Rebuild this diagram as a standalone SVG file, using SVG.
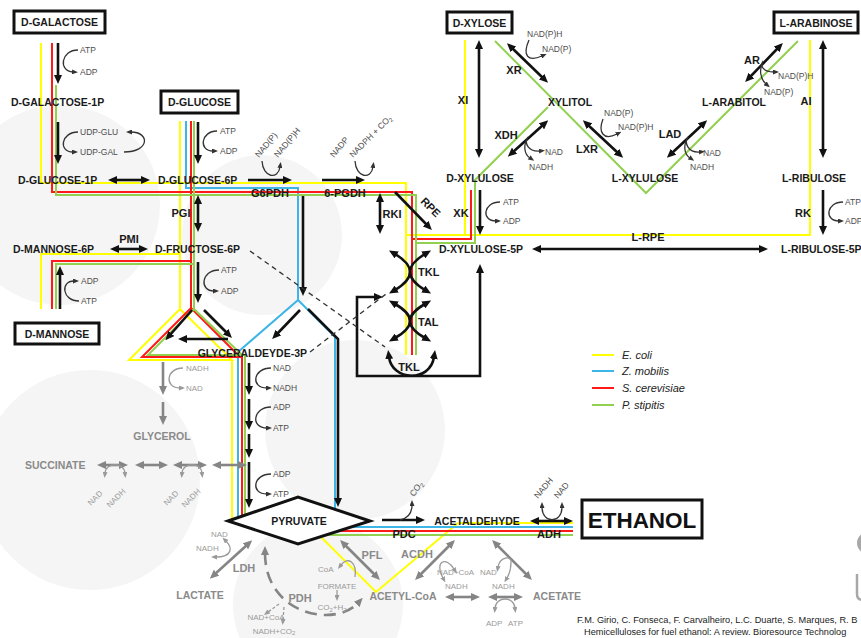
<svg xmlns="http://www.w3.org/2000/svg" width="861" height="638" viewBox="0 0 861 638">
<style>
text{font-family:"Liberation Sans",Arial,Helvetica,sans-serif}
.n{font-size:10.5px;font-weight:bold;fill:#1a1a1a}
.e{font-size:11px;font-weight:bold;fill:#1a1a1a}
.gt{font-size:10.5px;font-weight:bold;fill:#8a8a8a}
.ge{font-size:11px;font-weight:bold;fill:#8a8a8a}
.c{font-size:8.5px;fill:#4d4d4d}
.cg{font-size:8px;fill:#9a9a9a}
.m{text-anchor:middle}
.box{fill:#fff;stroke:#111;stroke-width:3}
.a{fill:none;stroke:#111;stroke-width:2.6;marker-end:url(#m)}
.a2{fill:none;stroke:#111;stroke-width:2.6;marker-start:url(#m);marker-end:url(#m)}
.g1{fill:none;stroke:#858585;stroke-width:2.6;marker-end:url(#mg)}
.g2{fill:none;stroke:#858585;stroke-width:2.6;marker-start:url(#mg);marker-end:url(#mg)}
.s1{fill:none;stroke:#333;stroke-width:1.3;marker-end:url(#s)}
.s2{fill:none;stroke:#333;stroke-width:1.3;marker-start:url(#s);marker-end:url(#s)}
.t1{fill:none;stroke:#9a9a9a;stroke-width:1.3;marker-end:url(#sg)}
.t2{fill:none;stroke:#9a9a9a;stroke-width:1.3;marker-start:url(#sg);marker-end:url(#sg)}
.ye{fill:none;stroke:#ffff00;stroke-width:2}
.bl{fill:none;stroke:#3db5e6;stroke-width:2}
.re{fill:none;stroke:#ff1a1a;stroke-width:2}
.gn{fill:none;stroke:#92d050;stroke-width:2}
.bg{fill:#f5f5f5}
.dash{fill:none;stroke:#333;stroke-width:1.3;stroke-dasharray:5 4}
.leg{font-size:11px;font-style:italic;fill:#222}
.cit{font-size:9.2px;fill:#222}
</style>
<defs>
<marker id="m" viewBox="0 0 9 8" markerWidth="9" markerHeight="8" refX="2" refY="4" orient="auto-start-reverse" markerUnits="userSpaceOnUse"><path d="M0,0 L9,4 L0,8 z" fill="#111"/></marker>
<marker id="mg" viewBox="0 0 9 8" markerWidth="9" markerHeight="8" refX="2" refY="4" orient="auto-start-reverse" markerUnits="userSpaceOnUse"><path d="M0,0 L9,4 L0,8 z" fill="#858585"/></marker>
<marker id="s" viewBox="0 0 6 5" markerWidth="6" markerHeight="5" refX="1" refY="2.5" orient="auto-start-reverse" markerUnits="userSpaceOnUse"><path d="M0,0 L6,2.5 L0,5 z" fill="#333"/></marker>
<marker id="sg" viewBox="0 0 6 5" markerWidth="6" markerHeight="5" refX="1" refY="2.5" orient="auto-start-reverse" markerUnits="userSpaceOnUse"><path d="M0,0 L6,2.5 L0,5 z" fill="#9a9a9a"/></marker>
</defs>
<rect width="861" height="638" fill="#fff"/>
<g id="background">
<circle class="bg" cx="60" cy="205" r="100"/>
<circle class="bg" cx="262" cy="235" r="80"/>
<circle class="bg" cx="355" cy="430" r="90"/>
<circle class="bg" cx="90" cy="480" r="110"/>
<circle class="bg" cx="318" cy="605" r="85"/>
<circle cx="868" cy="543" r="11" fill="#a8a8a8"/>
<path d="M857,574 V594 Q857,600 863,600" fill="none" stroke="#a8a8a8" stroke-width="2.5"/>
</g>
<g id="pathways">
<path class="ye" d="M41,43 V183 H406 V355"/>
<path class="ye" d="M180,121 V309 L129,360 H232 L180,309 M232,360 V520"/>
<path class="ye" d="M41,309 V254 H180"/>
<path class="ye" d="M305,521 L376,592 L458,523 H573"/>
<path class="ye" d="M465,40 V235 M406,235 H810 V40"/>
<path class="bl" d="M186,121 V188 H298 V300 L238,352 V520"/>
<path class="bl" d="M298,300 L335,337 V527 H573"/>
<path class="re" d="M52,43 V192 H412 V355"/>
<path class="re" d="M191,121 V308 L142,357 H242 V520 M191,308 L240,357"/>
<path class="re" d="M52,309 V261 H191"/>
<path class="re" d="M300,531 H573"/>
<path class="re" d="M471,190 V239 H412"/>
<path class="gn" d="M56,85 V195 H416 V355"/>
<path class="gn" d="M194,121 V309 L148,355 H245 V520 M194,309 L242,355"/>
<path class="gn" d="M56,309 V264 H194"/>
<path class="gn" d="M300,535 H573"/>
<path class="gn" d="M495,41 L646,193 L798,41"/>
<path class="gn" d="M548,107 L475,180 V243 H416"/>
</g>
<g id="connectors">
<path class="a" d="M58,43 V77"/>
<path class="a" d="M58,122 V157"/>
<path class="a2" d="M115,180 H143"/>
<path class="a" d="M198,122 V157"/>
<path class="a" d="M248,180 H285"/>
<path class="a" d="M322,180 H358"/>
<path class="a2" d="M198,202 V225"/>
<path class="a2" d="M117,249 H141"/>
<path class="a" d="M60,309 V273"/>
<path class="a" d="M198,262 V296"/>
<path class="a" d="M192,310 L170,335"/>
<path class="a" d="M204,310 L227,333"/>
<path class="a" d="M228,339 H185"/>
<path class="a" d="M303,196 V289"/>
<path class="a" d="M300,310 L277,334"/>
<path class="a" d="M308,309 L338,339 V500"/>
<path class="a" d="M249,363 V388"/>
<path class="a" d="M249,399 V423"/>
<path class="a" d="M249,434 V451"/>
<path class="a" d="M249,462 V501"/>
<path class="a" d="M382,520 H418"/>
<path class="a2" d="M537,521 H566"/>
<path class="a2" d="M380,200 V227"/>
<path class="a" d="M395,192 L427,225"/>
<path class="a2" d="M479,47 V151"/>
<path class="a2" d="M512,48 L543,78"/>
<path class="a2" d="M513,152 L543,125"/>
<path class="a2" d="M588,125 L618,153"/>
<path class="a2" d="M672,153 L702,125"/>
<path class="a2" d="M750,77 L778,48"/>
<path class="a2" d="M823,47 V151"/>
<path class="a" d="M480,190 V228"/>
<path class="a" d="M823,190 V228"/>
<path class="a2" d="M539,249 H761"/>
<path class="a2" d="M376,297 H357 V376 H480 V271"/>
<path class="a2" d="M395,254 Q425,272 395,290"/>
<path class="a2" d="M425,254 Q395,272 425,290"/>
<path class="a2" d="M395,304 Q425,321 395,338"/>
<path class="a2" d="M425,304 Q395,321 425,338"/>
<path class="a2" d="M389,357 C392,381 430,383 434,357"/>
<path class="dash" d="M250,251 L385,347"/>
<path class="dash" d="M310,352 L386,294"/>
<path class="s1" d="M78,50 C61,50 58,71 73,72"/>
<path class="s1" d="M78,132 C61,132 58,152 73,152"/>
<path class="s1" d="M124,152 C150,152 150,132 131,132"/>
<path class="s1" d="M217,131 C201,131 198,151 213,151"/>
<path class="s1" d="M219,270 C201,270 199,291 214,291"/>
<path class="s1" d="M79,301 C62,301 60,281 74,281"/>
<path class="s1" d="M271,368 C253,368 250,388 267,388"/>
<path class="s1" d="M271,407 C253,407 250,428 267,428"/>
<path class="s1" d="M271,474 C253,474 250,494 267,494"/>
<path class="s1" d="M500,202 C483,202 481,221 496,221"/>
<path class="s1" d="M843,202 C826,202 824,221 839,221"/>
<path class="s1" d="M262,161 C263,178 278,180 280,167"/>
<path class="s1" d="M355,161 C356,178 371,180 373,167"/>
<path class="s1" d="M400,520 C409,518 412,512 412,505"/>
<path class="s2" d="M542,507 C542,524 562,524 562,507"/>
<path class="s1" d="M529,40 C522,56 528,62 542,56"/>
<path class="s2" d="M540,151 C528,152 524,143 528,137 C523,145 524,154 530,158"/>
<path class="s1" d="M603,119 C598,132 603,141 617,134"/>
<path class="s2" d="M700,152 C688,153 684,143 688,137 C683,145 684,154 690,158"/>
<path class="s2" d="M774,72 C763,72 760,66 763,61 C759,69 760,79 766,84"/>
<path class="g1" d="M163,362 V388"/>
<path class="g1" d="M163,402 V418"/>
<path class="t1" d="M183,368 C166,368 164,388 180,388"/>
<path class="g2" d="M104,465 H121"/>
<path class="g2" d="M142,465 H161"/>
<path class="g2" d="M180,465 H200"/>
<path class="g2" d="M219,465 H240"/>
<path class="t2" d="M105,473 C106,462 124,462 125,473"/>
<path class="t2" d="M182,473 C183,462 201,462 202,473"/>
<path class="g2" d="M247,545 L215,574"/>
<path class="t2" d="M226,541 C233,548 232,557 216,557"/>
<path class="g2" d="M345,545 L375,575"/>
<path class="t1" d="M355,577 C357,562 348,556 341,565"/>
<path class="t1" d="M337,590 V596"/>
<path class="g2" d="M450,545 L420,575"/>
<path class="t2" d="M454,569 C446,556 434,561 443,578"/>
<path class="g2" d="M497,545 L527,575"/>
<path class="t2" d="M498,567 C500,556 512,556 511,562 C511,570 510,573 507,578"/>
<path class="g2" d="M452,597 H473"/>
<path class="g2" d="M495,597 H516"/>
<path class="t2" d="M495,608 C496,596 514,596 515,608"/>
<path class="g2" d="M265,553 C265,615 335,628 358,603" stroke-dasharray="12 7"/>
<path class="t1" d="M279,604 L268,612" stroke-dasharray="3 2"/>
<path class="t1" d="M284,607 L283,620" stroke-dasharray="3 2"/>
</g>
<g id="n-pyruvate">
<polygon points="228,521 298,497 370,521 298,544" fill="#fff" stroke="#111" stroke-width="3"/>
<text class="n m" x="299" y="525">PYRUVATE</text>
</g>
<g id="n-galactose"><rect class="box" x="14" y="11" width="91" height="22"/><text class="n m" x="59.5" y="26">D-GALACTOSE</text></g>
<g id="n-gal1p"><text class="n" x="11" y="106">D-GALACTOSE-1P</text></g>
<g id="n-glc1p"><text class="n" x="18" y="184">D-GLUCOSE-1P</text></g>
<g id="n-glucose"><rect class="box" x="161" y="91" width="77" height="22"/><text class="n m" x="199.5" y="106">D-GLUCOSE</text></g>
<g id="n-g6p"><text class="n" x="158" y="184">D-GLUCOSE-6P</text></g>
<g id="n-m6p"><text class="n" x="13" y="253">D-MANNOSE-6P</text></g>
<g id="n-f6p"><text class="n" x="155" y="253">D-FRUCTOSE-6P</text></g>
<g id="n-mannose"><rect class="box" x="15" y="323" width="84" height="21"/><text class="n m" x="57" y="337.5">D-MANNOSE</text></g>
<g id="n-gap"><text class="n" x="307" y="357" text-anchor="end">GLYCERALDEYDE-3P</text></g>
<g id="n-glycerol"><text class="gt m" x="162" y="440">GLYCEROL</text></g>
<g id="n-succinate"><text class="gt" x="25" y="469">SUCCINATE</text></g>
<g id="n-acetaldehyde"><text class="n m" x="477" y="525">ACETALDEHYDE</text></g>
<g id="n-ethanol"><rect class="box" x="582" y="500" width="120" height="38"/><text x="642" y="527.5" text-anchor="middle" font-size="22.5" font-weight="bold" fill="#111">ETHANOL</text></g>
<g id="n-lactate"><text class="gt m" x="200" y="599">LACTATE</text></g>
<g id="n-acetylcoa"><text class="gt m" x="403" y="600">ACETYL-CoA</text></g>
<g id="n-acetate"><text class="gt m" x="557" y="600">ACETATE</text></g>
<g id="n-xylose"><rect class="box" x="447" y="12" width="65" height="21"/><text class="n m" x="479.5" y="26.5">D-XYLOSE</text></g>
<g id="n-arabinose"><rect class="box" x="774" y="12" width="84" height="21"/><text class="n m" x="816" y="26.5">L-ARABINOSE</text></g>
<g id="n-xylitol"><text class="n m" x="570" y="106">XYLITOL</text></g>
<g id="n-arabitol"><text class="n m" x="734" y="106">L-ARABITOL</text></g>
<g id="n-dxylulose"><text class="n m" x="480" y="182">D-XYLULOSE</text></g>
<g id="n-lxylulose"><text class="n m" x="645" y="182">L-XYLULOSE</text></g>
<g id="n-lribulose"><text class="n m" x="814" y="182">L-RIBULOSE</text></g>
<g id="n-xu5p"><text class="n" x="439" y="253">D-XYLULOSE-5P</text></g>
<g id="n-ru5p"><text class="n" x="781" y="253">L-RIBULOSE-5P</text></g>
<g id="enzymes">
<text class="e m" x="181" y="217">PGI</text>
<text class="e m" x="129" y="243">PMI</text>
<text class="e m" x="270" y="197">G6PDH</text>
<text class="e m" x="345" y="197">6-PGDH</text>
<text class="e m" x="392" y="218">RKI</text>
<text class="e m" transform="translate(428,210) rotate(45)">RPE</text>
<text class="e m" x="461" y="217">XK</text>
<text class="e m" x="803" y="217">RK</text>
<text class="e m" x="463" y="104">XI</text>
<text class="e m" x="806" y="105">AI</text>
<text class="e m" x="514" y="74">XR</text>
<text class="e m" x="506" y="139">XDH</text>
<text class="e m" x="587" y="153">LXR</text>
<text class="e m" x="670" y="138">LAD</text>
<text class="e m" x="752" y="64">AR</text>
<text class="e m" x="648" y="241">L-RPE</text>
<text class="e m" x="404" y="538">PDC</text>
<text class="e m" x="549" y="538">ADH</text>
<text class="e" x="418" y="276">TKL</text>
<text class="e" x="418" y="326">TAL</text>
<text class="e m" x="409" y="371">TKL</text>
<text class="ge m" x="244" y="572">LDH</text>
<text class="ge m" x="372" y="559">PFL</text>
<text class="ge m" x="417" y="558">ACDH</text>
<text class="ge m" x="300" y="602">PDH</text>
</g>
<g id="cofactors">
<text class="c" x="80" y="53">ATP</text><text class="c" x="80" y="75">ADP</text>
<text class="c" x="80" y="135">UDP-GLU</text><text class="c" x="80" y="155">UDP-GAL</text>
<text class="c" x="220" y="134">ATP</text><text class="c" x="220" y="154">ADP</text>
<text class="c" x="221" y="273">ATP</text><text class="c" x="221" y="294">ADP</text>
<text class="c" x="81" y="284">ADP</text><text class="c" x="81" y="304">ATP</text>
<text class="c" x="273" y="371">NAD</text><text class="c" x="273" y="391">NADH</text>
<text class="c" x="273" y="410">ADP</text><text class="c" x="273" y="431">ATP</text>
<text class="c" x="273" y="477">ADP</text><text class="c" x="273" y="497">ATP</text>
<text class="c" x="503" y="205">ATP</text><text class="c" x="503" y="224">ADP</text>
<text class="c" x="845" y="205">ATP</text><text class="c" x="845" y="224">ADP</text>
<text class="c" transform="translate(259,158) rotate(-50)">NAD(P)</text>
<text class="c" transform="translate(278,158) rotate(-50)">NAD(P)H</text>
<text class="c" transform="translate(334,158) rotate(-50)">NADP</text>
<text class="c" transform="translate(353,158) rotate(-45)">NADPH + CO<tspan font-size="6" dy="2">2</tspan></text>
<text class="c" x="527" y="37">NAD(P)H</text><text class="c" x="542" y="52">NAD(P)</text>
<text class="c" x="545" y="155">NAD</text><text class="c" x="529" y="170">NADH</text>
<text class="c" x="604" y="116">NAD(P)</text><text class="c" x="618" y="130">NAD(P)H</text>
<text class="c" x="703" y="156">NAD</text><text class="c" x="690" y="170">NADH</text>
<text class="c" x="778" y="79">NAD(P)H</text><text class="c" x="764" y="95">NAD(P)</text>
<text class="c" transform="translate(538,499) rotate(-50)">NADH</text>
<text class="c" transform="translate(558,499) rotate(-50)">NAD</text>
<text class="c" transform="translate(414,497) rotate(-55)">CO<tspan font-size="6" dy="2">2</tspan></text>
<text class="cg" x="186" y="371">NADH</text><text class="cg" x="186" y="391">NAD</text>
<text class="cg m" transform="translate(97,500) rotate(-45)">NAD</text>
<text class="cg m" transform="translate(118,500) rotate(-45)">NADH</text>
<text class="cg m" transform="translate(173,500) rotate(-45)">NAD</text>
<text class="cg m" transform="translate(193,500) rotate(-45)">NADH</text>
<text class="cg" x="211" y="537">NAD</text><text class="cg" x="196" y="551">NADH</text>
<text class="cg" x="318" y="572">CoA</text>
<text class="cg m" x="337" y="589">FORMATE</text>
<text class="cg m" x="332" y="610">CO<tspan font-size="6" dy="2">2</tspan><tspan dy="-2">+H</tspan><tspan font-size="6" dy="2">2</tspan></text>
<text class="cg m" x="266" y="620">NAD+CoA</text>
<text class="cg m" x="274" y="633.5">NADH+CO<tspan font-size="6" dy="1.5">2</tspan></text>
<text class="cg" x="437" y="575">NAD+CoA</text><text class="cg" x="445" y="589">NADH</text>
<text class="cg" x="480" y="575">NAD</text><text class="cg" x="492" y="589">NADH</text>
<text class="cg" x="486" y="626">ADP</text><text class="cg" x="508" y="626">ATP</text>
</g>
<g id="legend">
<line x1="592" y1="355" x2="614" y2="355" stroke="#ffff00" stroke-width="2"/>
<line x1="592" y1="371" x2="614" y2="371" stroke="#3db5e6" stroke-width="2"/>
<line x1="592" y1="388" x2="614" y2="388" stroke="#ff1a1a" stroke-width="2"/>
<line x1="592" y1="405" x2="614" y2="405" stroke="#92d050" stroke-width="2"/>
<text class="leg" x="622" y="359">E. coli</text>
<text class="leg" x="622" y="375">Z. mobilis</text>
<text class="leg" x="622" y="392">S. cerevisiae</text>
<text class="leg" x="622" y="409">P. stipitis</text>
</g>
<g id="citation">
<text class="cit" x="577" y="623">F.M. Girio, C. Fonseca, F. Carvalheiro, L.C. Duarte, S. Marques, R. B</text>
<text class="cit" x="584" y="635">Hemicelluloses for fuel ethanol: A review. Bioresource Technolog</text>
</g>
</svg>
